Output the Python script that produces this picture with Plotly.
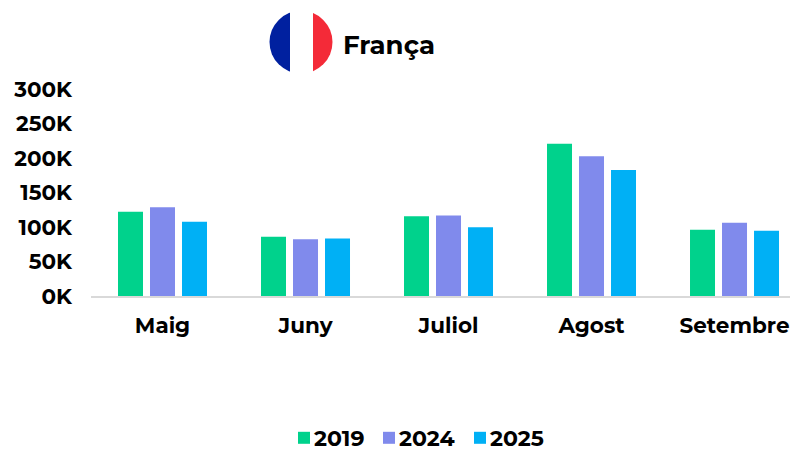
import base64
import plotly.graph_objects as go

months = ["Maig", "Juny", "Juliol", "Agost", "Setembre"]
y2019 = [122000, 86000, 115500, 220700, 96000]
y2024 = [128800, 82400, 116800, 202400, 106300]
y2025 = [107700, 83400, 99500, 182700, 94700]
tickvals = [0, 50000, 100000, 150000, 200000, 250000, 300000]
ticktext = ["0K", "50K", "100K", "150K", "200K", "250K", "300K"]
FONT = "Montserrat, Inter, 'Open Sans', sans-serif"

W, H = 790, 449
L, R, T, B = 91, 790, 89, 296.5

flag = """<svg xmlns='http://www.w3.org/2000/svg' width='64' height='64' viewBox='0 0 64 64'>
<defs><clipPath id='c'><circle cx='32' cy='32' r='31.5'/></clipPath></defs>
<g clip-path='url(#c)'><rect width='21' height='64' fill='#00209f'/>
<rect x='21' width='23' height='64' fill='#ffffff'/>
<rect x='44' width='20' height='64' fill='#f42a38'/></g></svg>"""
src = "data:image/svg+xml;base64," + base64.b64encode(flag.encode()).decode()

fig = go.Figure()
for name, vals, col in [("2019", y2019, "#00d28c"), ("2024", y2024, "#808aec"), ("2025", y2025, "#00b0f5")]:
    fig.add_bar(x=months, y=vals, name=name, marker=dict(color=col, line=dict(width=0)))

fig.update_layout(
    width=W, height=H, autosize=False,
    paper_bgcolor="white", plot_bgcolor="white",
    margin=dict(l=L, r=W - R, t=T, b=H - B, pad=0),
    barmode="group", bargap=47 / 143, bargroupgap=7 / 32,
    font=dict(family=FONT, color="#000000", size=22, weight="bold"),
    showlegend=True,
    legend=dict(orientation="h", xref="container", yref="container", x=284 / W, xanchor="left",
                y=(H - 438) / H, yanchor="middle", bgcolor="rgba(0,0,0,0)",
                font=dict(size=22, family=FONT, weight="bold"), traceorder="normal"),
    xaxis=dict(range=[-0.5, 4.388], showgrid=False, showline=True, linecolor="#d9d9d9", linewidth=2,
               ticks="", tickfont=dict(size=21.5, family=FONT, weight="bold"), automargin=False,
               ticklabelstandoff=9),
    yaxis=dict(range=[0, 300000], tickvals=tickvals, ticktext=ticktext, showgrid=False, zeroline=False,
               showline=False, ticks="", tickfont=dict(size=21.5, family=FONT, weight="bold"), automargin=False,
               ticklabelstandoff=18),
    images=[dict(source=src, xref="paper", yref="paper", xanchor="left", yanchor="top", layer="above",
                 x=(269 - L) / (R - L), y=(B - 10) / (B - T), sizex=64 / (R - L), sizey=64 / (B - T),
                 sizing="stretch")],
    annotations=[dict(text="França", xref="paper", yref="paper", showarrow=False, xanchor="left",
                      yanchor="middle", x=(341 - L) / (R - L), y=(B - 45) / (B - T),
                      font=dict(size=26, family=FONT, color="#000000", weight="bold"))],
)
post = """
document.body.style.margin = '0';
document.querySelectorAll('.legendtext').forEach(function (t) { t.setAttribute('transform', 'translate(-10,0)'); });
var first = null;
[0, 85, 176].forEach(function (dx, i) {
  var g = document.querySelectorAll('.legend .traces')[i];
  var m = /translate\\(([-\\d.]+),\\s*([-\\d.]+)\\)/.exec(g.getAttribute('transform'));
  if (first === null) first = parseFloat(m[1]);
  g.setAttribute('transform', 'translate(' + (first + dx) + ',' + m[2] + ')');
});
"""
fig.write_html("out.html", post_script=post, config={"displayModeBar": False})
